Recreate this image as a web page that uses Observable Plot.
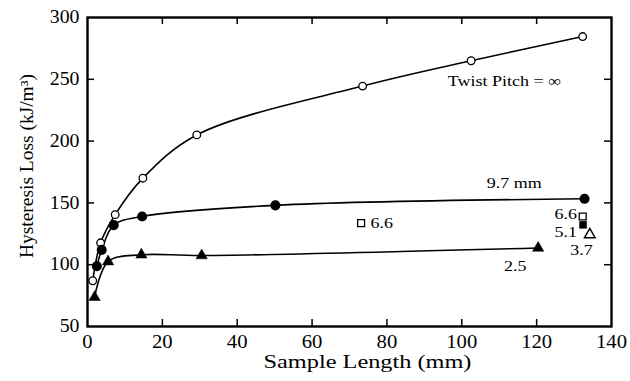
<!DOCTYPE html>
<html><head><meta charset="utf-8">
<script src="https://cdn.jsdelivr.net/npm/d3@7"></script>
<script src="https://cdn.jsdelivr.net/npm/@observablehq/plot@0.6"></script>
<style>
body{margin:0;background:#fff}
svg, svg text{font-family:"Liberation Serif","Times New Roman",serif !important; font-variant-numeric: normal !important}
</style>
</head><body><div id="chart"></div>
<script>
// Twist pitch = infinity (open circles)
const infX = [1.4, 3.5, 7.4, 14.8, 29.2, 73.5, 102.5, 132.3];
const infY = [87, 117.7, 140.5, 170, 205, 244.5, 265, 284.6];
// Twist pitch 9.7 mm (filled circles)
const p97X = [2.5, 3.8, 7.0, 14.6, 50.2, 132.8];
const p97Y = [98.8, 112, 132, 139, 148, 153.3];
// Twist pitch 2.5 mm (filled triangles)
const p25X = [1.9, 5.5, 14.4, 30.5, 120.4];
const p25Y = [73.7, 102.5, 108, 107.4, 113.5];
// isolated points
const sq66X = [73.1, 132.3];   // open squares, 6.6 mm
const sq66Y = [133.6, 139];
const sq51X = [132.4];         // filled square, 5.1 mm
const sq51Y = [132.3];
const tr37X = [134.2];         // open triangle, 3.7 mm
const tr37Y = [124.3];

// annotations
const noteText   = ["Twist Pitch = ∞", "9.7 mm", "6.6", "6.6", "5.1", "3.7", "2.5"];
const noteX      = [111.4, 114, 75.6, 130.8, 130.8, 132, 114.3];
const noteY      = [248.6, 166.1, 133.3, 140.6, 126.5, 111.7, 99];
const noteAnchor = ["middle", "middle", "start", "end", "end", "middle", "middle"];

const xTicks = [0, 20, 40, 60, 80, 100, 120, 140];
const yTicks = [50, 100, 150, 200, 250, 300];
const xInner = [20, 40, 60, 80, 100, 120];
const yInner = [100, 150, 200, 250];
const xLabel = "Sample Length (mm)";
const yLabel = "Hysteresis Loss (kJ/m³)";

const toRows = (X, Y) => X.map((x, i) => ({x, y: Y[i]}));
const inf = toRows(infX, infY), p97 = toRows(p97X, p97Y), p25 = toRows(p25X, p25Y);
const notes = noteText.map((t, i) => ({t, x: noteX[i], y: noteY[i], a: noteAnchor[i]}));

const W = 630, H = 381, ML = 87, MR = 19, MT = 17, MB = 55;
const FW = W - ML - MR, FH = H - MT - MB, TL = 7;

const noteMarks = ["start", "middle", "end"].map(a =>
  Plot.text(notes.filter(d => d.a === a), {x: "x", y: "y", text: "t", textAnchor: a,
    fontSize: 15, fill: "black"}));

const chart = Plot.plot({
  width: W, height: H,
  marginLeft: ML, marginRight: MR, marginTop: MT, marginBottom: MB,
  style: {fontFamily: '"Liberation Serif", serif', fontSize: "18px", background: "white", color: "black"},
  x: {domain: [0, 140]},
  y: {domain: [50, 300]},
  marks: [
    Plot.axisX({ticks: xTicks, tickSize: 0, tickPadding: 9, fontSize: 18, label: null}),
    Plot.axisY({ticks: yTicks, tickSize: 0, tickPadding: 8, fontSize: 18, label: null}),
    Plot.text([xLabel], {text: d => d, frameAnchor: "bottom", textAnchor: "middle", lineAnchor: "bottom",
      dx: 18, dy: 41, fontSize: 18, fill: "black"}),
    Plot.text([yLabel], {text: d => d, frameAnchor: "left", textAnchor: "middle", lineAnchor: "middle",
      rotate: -90, dx: -60, dy: -6, fontSize: 18, fill: "black"}),
    Plot.tickX(xInner, {x: d => d, insetTop: FH - TL, strokeWidth: 1.5}),
    Plot.tickX(xInner, {x: d => d, insetBottom: FH - TL, strokeWidth: 1.5}),
    Plot.tickY(yInner, {y: d => d, insetRight: FW - TL, strokeWidth: 1.5}),
    Plot.tickY(yInner, {y: d => d, insetLeft: FW - TL, strokeWidth: 1.5}),
    Plot.frame({stroke: "black", strokeWidth: 2.4}),
    Plot.line(inf, {x: "x", y: "y", curve: "catmull-rom", stroke: "black", strokeWidth: 1.6}),
    Plot.line(p97, {x: "x", y: "y", curve: "catmull-rom", stroke: "black", strokeWidth: 1.6}),
    Plot.line(p25, {x: "x", y: "y", curve: "catmull-rom", stroke: "black", strokeWidth: 1.6}),
    Plot.dot(inf, {x: "x", y: "y", r: 3.8, fill: "white", stroke: "black", strokeWidth: 1.3}),
    Plot.dot(p97, {x: "x", y: "y", r: 4.3, fill: "black", stroke: "black"}),
    Plot.dot(p25, {x: "x", y: "y", r: 4.2, symbol: "triangle", fill: "black", stroke: "black", strokeWidth: 0.5}),
    Plot.dot(toRows(sq66X, sq66Y), {x: "x", y: "y", r: 3.9, symbol: "square", fill: "white", stroke: "black", strokeWidth: 1.3}),
    Plot.dot(toRows(sq51X, sq51Y), {x: "x", y: "y", r: 4.0, symbol: "square", fill: "black", stroke: "black", strokeWidth: 0.5}),
    Plot.dot(toRows(tr37X, tr37Y), {x: "x", y: "y", r: 4.0, symbol: "triangle", fill: "white", stroke: "black", strokeWidth: 1.4}),
    ...noteMarks
  ]
});
document.getElementById("chart").append(chart);

function stretchEls(els, f) {
  els.forEach(t => {
    const w = t.getComputedTextLength();
    if (w > 0) {
      t.setAttribute("textLength", (w * f).toFixed(1));
      t.setAttribute("lengthAdjust", "spacingAndGlyphs");
    }
  });
}
const q = sel => Array.from(chart.querySelectorAll(sel));
stretchEls(q('g[aria-label="x-axis tick label"] text'), 1.15);
stretchEls(q('g[aria-label="y-axis tick label"] text'), 1.1);
const textGroups = q('g[aria-label="text"]');
// order of text marks: x label, y label, then annotation groups
stretchEls(Array.from(textGroups[0].querySelectorAll("text")), 1.35);
stretchEls(Array.from(textGroups[1].querySelectorAll("text")), 1.08);
textGroups.slice(2).forEach(g => stretchEls(Array.from(g.querySelectorAll("text")), 1.2));
</script>
</body></html>
